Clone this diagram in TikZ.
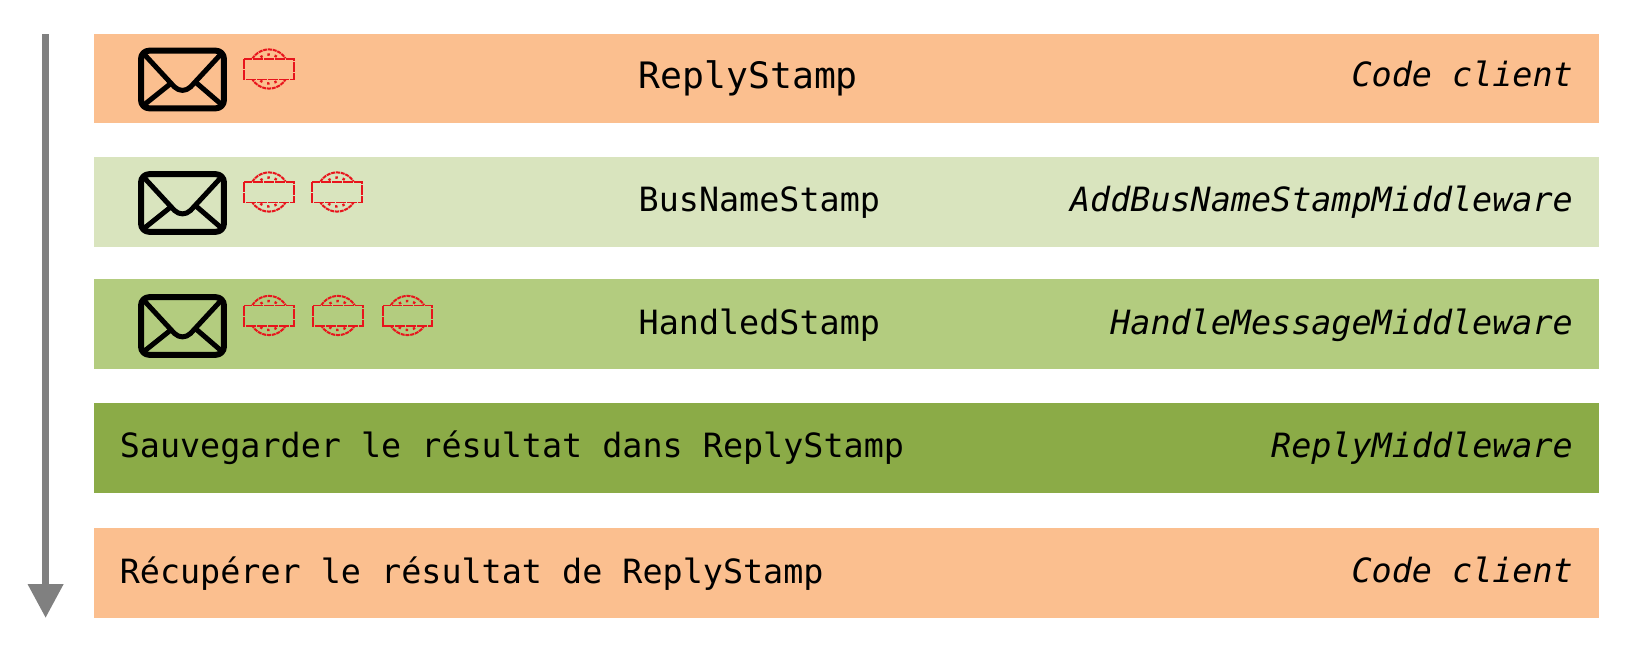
\documentclass[tikz,border=0pt]{standalone}
\usepackage{fontspec}
\setmonofont{DejaVu Sans Mono}
\usetikzlibrary{arrows.meta}
\definecolor{peach}{HTML}{FBBF8F}
\definecolor{palegreen}{HTML}{D9E4BE}
\definecolor{midgreen}{HTML}{B3CC7F}
\definecolor{deepgreen}{HTML}{8BAB47}
\definecolor{arrowgrey}{HTML}{808080}
\definecolor{stampred}{HTML}{E8141C}
\tikzset{
  x=1pt,y=-1pt,
  band/.style={anchor=north west,inner sep=0,outer sep=0,minimum width=1505.5pt,draw=none,fill=#1},
  txt/.style={inner sep=0,font=\fontsize{33.4}{36}\selectfont\ttfamily},
  lefttxt/.style={txt,anchor=base west},
  righttxt/.style={txt,anchor=base east,font=\fontsize{33.4}{36}\selectfont\ttfamily\itshape},
  envline/.style={line width=6pt,line cap=round,line join=round,draw=black},
  envelope/.pic={
    \draw[envline,rounded corners=8pt] (-41.4,-28.8) rectangle (41.4,28.8);
    \draw[envline,line width=5pt] (-39,-26) -- (-8,7.5) .. controls (-3,12) and (3,12) .. (8,7.5) -- (39,-26);
    \draw[envline,line width=5pt] (-38,25) -- (-13,5);
    \draw[envline,line width=5pt] (14,3.5) -- (39,25);
  },
  stamp/.pic={
    \begin{scope}
      \clip (-27,-22) rectangle (27,-10.5) (-27,10.5) rectangle (27,22);
      \draw[stampred,line width=2pt,dash pattern=on 4pt off 0.8pt] (0,0) circle (19.6);
      \draw[stampred,line width=2.4pt,dash pattern=on 2.4pt off 5pt] (0,0) circle (14.5);
    \end{scope}
    \draw[stampred,line width=1.7pt,dash pattern=on 10pt off 1pt] (-24.7,-10) rectangle (24.7,10.5);
  },
}
\begin{document}
\begin{tikzpicture}
\useasboundingbox (0,0) rectangle (1630,650);
\node[band=peach,minimum height=88.5pt] (r1) at (93.5,34.2) {};
\node[band=palegreen,minimum height=89.5pt] (r2) at (93.5,157) {};
\node[band=midgreen,minimum height=90.5pt] (r3) at (93.5,278.6) {};
\node[band=deepgreen,minimum height=89.5pt] (r4) at (93.5,403.4) {};
\node[band=peach,minimum height=90pt] (r5) at (93.5,527.5) {};

\coordinate (arrowtop) at (45.6,34.2);
\coordinate (arrowend) at (45.6,618);
\draw[arrowgrey,line width=7.3pt,-{Triangle[width=34pt,length=34pt]}] (arrowtop) -- (arrowend);

\pic at (182.5,79.5) {envelope};
\pic at (182.5,203) {envelope};
\pic at (182.5,326) {envelope};

\pic at (269,69) {stamp};
\pic at (269,192) {stamp};
\pic at (337,192) {stamp};
\pic at (269,315.5) {stamp};
\pic at (338,315.5) {stamp};
\pic at (407.5,315.5) {stamp};

\node[lefttxt,font=\fontsize{36.4}{38}\selectfont\ttfamily] (t1) at (638.5,88.5) {ReplyStamp};
\node[lefttxt] (t2) at (638.5,211) {BusNameStamp};
\node[lefttxt] (t3) at (638.5,334) {HandledStamp};
\node[lefttxt] (t4) at (119.6,457) {Sauvegarder le résultat dans ReplyStamp};
\node[lefttxt] (t5) at (119.6,583.5) {Récupérer le résultat de ReplyStamp};
\node[righttxt] (c1) at (1573,87) {Code client};
\node[righttxt] (c2) at (1573,211) {AddBusNameStampMiddleware};
\node[righttxt] (c3) at (1573,334) {HandleMessageMiddleware};
\node[righttxt] (c4) at (1573,457) {ReplyMiddleware};
\node[righttxt] (c5) at (1573,582) {Code client};
\end{tikzpicture}
\end{document}
